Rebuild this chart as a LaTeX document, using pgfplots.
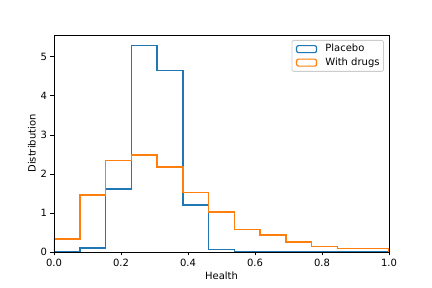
\documentclass[border=0pt]{standalone}
\usepackage{pgfplots}
\pgfplotsset{compat=1.18}
\usepackage{fontspec}
\setmainfont{DejaVu Sans}
\definecolor{mplblue}{HTML}{1F77B4}
\definecolor{mplorange}{HTML}{FF7F0E}
\begin{document}
\fontsize{10}{12}\selectfont
\begin{tikzpicture}
\path[use as bounding box] (-54pt,-36pt) rectangle (378pt,252pt);
\begin{axis}[
  at={(0pt,0pt)}, anchor=south west,
  scale only axis, width=335pt, height=217pt,
  axis on top,
  xmin=0, xmax=1, ymin=0, ymax=5.56,
  xtick={0,0.2,0.4,0.6,0.8,1.0},
  xticklabels={0.0,0.2,0.4,0.6,0.8,1.0},
  ytick={0,1,2,3,4,5},
  tick align=outside, tick pos=left,
  major tick length=3.5pt,
  tick style={black, line width=0.8pt},
  axis line style={line width=0.8pt},
  /pgf/number format/assume math mode=true,
  ticklabel style={font=\fontsize{10}{12}\selectfont},
  xlabel={Health}, ylabel={Distribution},
  label style={font=\fontsize{10}{12}\selectfont},
  xlabel style={yshift=2pt},
  ylabel style={yshift=-2pt},
  legend style={at={(rel axis cs:0.985,0.977)}, anchor=north east,
    draw=black!20, line width=0.8pt, fill=white, font=\fontsize{10}{12}\selectfont,
    row sep=4pt, inner xsep=4pt, inner ysep=4pt, rounded corners=2pt,
    nodes={inner sep=0pt, text height=7.5pt, text depth=2pt, anchor=west}},
  legend cell align=left,
  legend image code/.code={\draw[#1, line width=1.2pt] (0pt,-3.5pt) rectangle (20pt,3.5pt); \path (28pt,0pt);},
]
\addplot[mplblue, line width=1.5pt, const plot mark left] coordinates {
(0,0) (0.076923,0.10) (0.153846,1.61) (0.230769,5.29) (0.307692,4.65)
(0.384615,1.21) (0.461538,0.07) (0.538462,0) (1,0)};
\addlegendentry{Placebo}
\addplot[mplorange, line width=1.5pt, const plot mark left] coordinates {
(0,0) (0,0.33) (0.076923,1.465) (0.153846,2.35) (0.230769,2.48) (0.307692,2.18)
(0.384615,1.53) (0.461538,1.02) (0.538462,0.58) (0.615385,0.43)
(0.692308,0.26) (0.769231,0.145) (0.846154,0.094) (0.923077,0.094) (1,0.094) (1,0)};
\addlegendentry{With drugs}
\end{axis}
\end{tikzpicture}
\end{document}
